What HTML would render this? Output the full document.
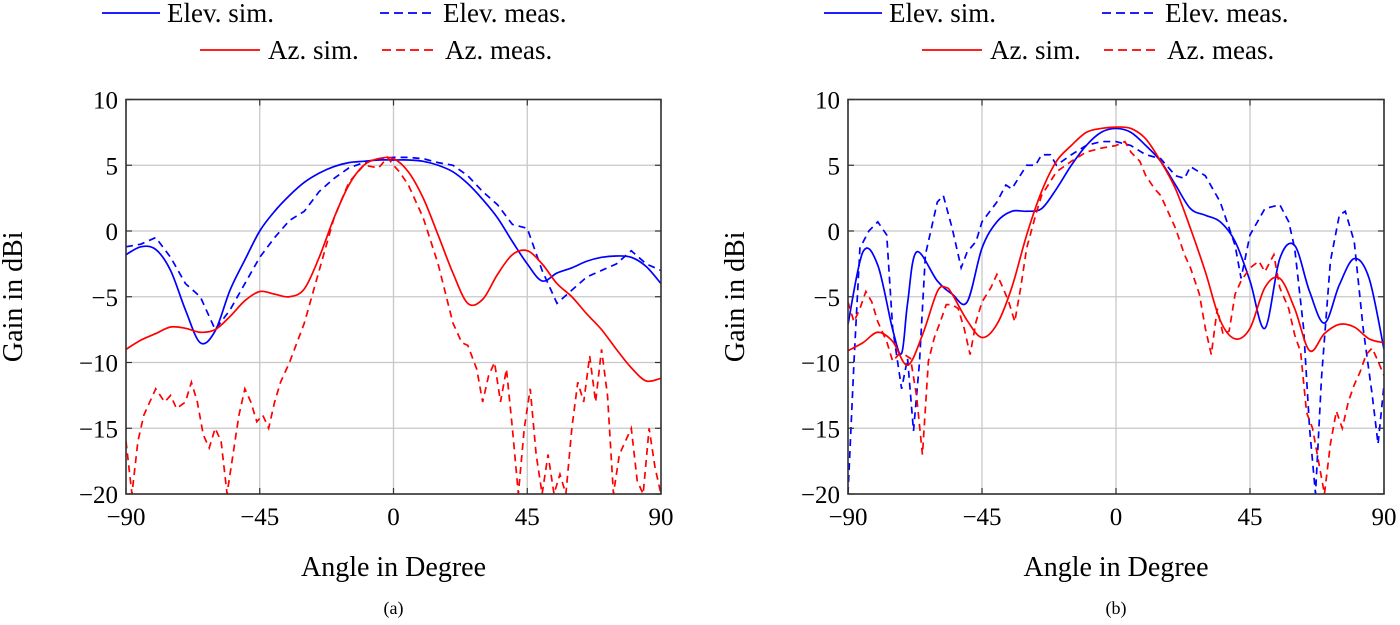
<!DOCTYPE html>
<html><head><meta charset="utf-8">
<style>
html,body{margin:0;padding:0;background:#fff;}
svg{display:block;font-family:"Liberation Serif","DejaVu Serif",serif;}
</style></head>
<body>
<svg id="fig" width="1400" height="625" viewBox="0 0 1400 625" xmlns="http://www.w3.org/2000/svg"></svg>
<script>
const xTicks=[-90,-45,0,45,90];
const yTicks=[10,5,0,-5,-10,-15,-20];
// Plot (a)
const aAng=[-90,-85,-80,-75,-70,-65,-60,-55,-50,-45,-40,-35,-30,-25,-20,-15,-10,-5,0,5,10,15,20,25,30,35,40,45,50,55,60,65,70,75,80,85,90];
const aElevSim=[-1.8,-1.2,-1.4,-3,-6,-8.5,-7.6,-4.5,-2.2,0,1.5,2.7,3.7,4.4,4.9,5.2,5.3,5.4,5.4,5.4,5.3,5.0,4.5,3.6,2.4,1,-0.8,-2.5,-3.8,-3.2,-2.8,-2.3,-2.0,-1.9,-2.0,-2.7,-4];
const aElevMeas=[-1.2,-1,-0.5,-2,-4,-5,-7.5,-6,-4,-2,-0.5,0.8,1.5,3,4.0,4.8,5.2,5.5,5.6,5.6,5.5,5.2,5.0,4.2,3.0,2.0,0.5,0.2,-3,-5.5,-4.5,-3.5,-3.0,-2.5,-1.5,-2.5,-3];
const aAzSim=[-9,-8.3,-7.8,-7.3,-7.4,-7.7,-7.5,-6.5,-5.3,-4.6,-4.8,-5.0,-4.4,-2,1,3.5,5.0,5.5,5.5,4.5,2.5,-0.3,-3.2,-5.5,-5.2,-3.3,-1.8,-1.5,-2.5,-4,-5,-6.3,-7.5,-9,-10.4,-11.4,-11.2];
const aMeasAng=[-90,-88,-86,-84,-80,-77,-75,-73,-70,-68,-66,-64,-62,-60,-58,-56,-54,-52,-50,-48,-46,-44,-42,-40,-38,-35,-30,-25,-20,-15,-10,-5,-2,0,2,5,10,15,20,23,25,28,30,32,34,36,38,40,42,44,46,48,50,52,54,56,58,60,62,64,66,68,70,72,74,76,78,80,82,84,86,88,90];
const aAzMeas=[-16,-20,-16,-14,-12,-13,-12.5,-13.5,-13,-11.5,-13,-15.5,-16.5,-15,-16,-20,-17,-14,-12,-13,-14.5,-14,-15,-13,-11.5,-10,-7,-3,1,3.7,5.0,4.8,5.6,5.0,4.5,3.5,1,-2.5,-7,-8.5,-8.7,-10.5,-13,-11,-10,-13,-10.5,-15,-20,-15,-12,-17,-20,-17,-20,-18.5,-20,-15,-11.5,-13,-9.5,-13,-9,-12.5,-20,-17,-16,-15,-19,-20,-15,-18,-20];
// Plot (b)
const bAng=[-90,-85,-80,-75,-72,-70,-67,-60,-55,-50,-45,-40,-35,-30,-25,-20,-15,-10,-5,0,5,10,15,20,25,30,35,40,45,50,55,60,65,70,75,80,85,90];
const bElevSim=[-7.1,-1.6,-2.6,-7.5,-9.3,-5.5,-1.6,-3.8,-4.8,-5.4,-1.3,0.7,1.5,1.5,1.7,3.2,5,6.5,7.5,7.8,7.5,6.5,5.3,3.5,1.7,1.2,0.7,-0.8,-3.8,-7.4,-2.1,-1.1,-4.6,-7,-4.1,-2.1,-3.6,-9];
const bAzSimAng=[-90,-85,-80,-75,-70,-65,-60,-57,-55,-50,-45,-40,-35,-30,-25,-20,-15,-10,-5,0,5,10,15,20,25,30,35,40,45,50,55,60,65,70,75,80,85,90];
const bAzSim=[-9.1,-8.5,-7.7,-8.4,-10.2,-7.9,-4.6,-4.3,-4.8,-6.8,-8.1,-7.1,-4.3,-0.3,3.0,5.3,6.5,7.5,7.8,7.9,7.8,7.0,5.3,3.2,0.2,-3.1,-6.8,-8.2,-7.4,-4.3,-3.6,-5.9,-9.1,-7.8,-7.1,-7.3,-8.2,-8.5];
const bElevMeasAng=[-90,-88,-86,-83,-80,-77,-75,-72,-70,-68,-66,-64,-60,-58,-55,-52,-50,-47,-45,-40,-37,-35,-30,-27,-25,-22,-20,-15,-10,-5,0,5,10,15,20,23,25,30,35,40,42,45,50,55,58,60,63,65,67,69,72,75,77,80,83,86,88,90];
const bElevMeas=[-20,-10,-1.3,0,0.7,-0.3,-7.4,-12,-9.7,-15.2,-10,-1.8,2.2,2.7,0.2,-2.8,-1.6,-0.8,0.7,2.2,3.5,3.2,5,5,5.8,5.8,5,5.8,6.5,6.8,6.8,6.5,5.8,5.5,4.2,4,4.9,4.2,2.2,-1.1,-3.6,-0.3,1.7,2.0,0.7,-1.3,-7.4,-15,-20,-11.2,-2.3,1.2,1.5,-0.8,-7.4,-12.4,-16.2,-11.7];
const bAzMeasAng=[-90,-88,-86,-84,-82,-80,-77,-75,-73,-71,-69,-67,-65,-63,-61,-59,-57,-55,-53,-51,-49,-47,-45,-42,-40,-38,-36,-34,-32,-30,-27,-25,-20,-15,-10,-5,0,3,5,8,10,13,15,20,23,25,28,30,32,34,36,38,40,42,45,48,50,53,55,58,60,62,64,66,68,70,72,74,76,78,80,82,84,86,88,90];
const bAzMeas=[-5.4,-6.9,-5.9,-4.6,-5.4,-6.9,-8.4,-9.9,-9.4,-9.4,-9.7,-12.5,-17,-9.9,-8.1,-6.9,-5.6,-5.6,-5.9,-7.4,-9.4,-6.9,-5.4,-4.3,-3.3,-4.3,-5.4,-6.9,-4.3,-1.3,1.2,2.7,4.5,5.3,6.0,6.3,6.5,6.8,6.0,5.3,4.2,3.2,2.7,0.2,-1.8,-2.8,-4.8,-7.4,-9.4,-5.9,-7.9,-7.6,-4.8,-3.8,-2.8,-2.3,-3.1,-1.8,-4.3,-5.9,-7.9,-9.2,-13.8,-15,-17.5,-20,-16.2,-13.7,-15,-13,-11.7,-10.7,-9.4,-8.9,-9.9,-11];

const NS="http://www.w3.org/2000/svg";
const svg=document.getElementById('fig');
function mk(tag,attrs,parent){const e=document.createElementNS(NS,tag);for(const k in attrs)e.setAttribute(k,attrs[k]);(parent||svg).appendChild(e);return e;}
const BLUE="#0000ff",RED="#ff0000";

function panel(id,x0,x1,y0,y1,series,label){
  const g=mk('g',{});
  
  
  const sx=a=>x0+(a+90)/180*(x1-x0);
  const sy=v=>y1-(v+20)/30*(y1-y0);
  const clipId='clip-'+id;
  const cp=mk('clipPath',{id:clipId},g);mk('rect',{x:x0,y:y0,width:x1-x0,height:y1-y0},cp);
  for(const t of xTicks){const l=mk('line',{x1:sx(t),x2:sx(t),y1:y0,y2:y1,stroke:'#c8c8c8','stroke-width':1.3},g);
    }
  for(const t of yTicks){const l=mk('line',{x1:x0,x2:x1,y1:sy(t),y2:sy(t),stroke:'#c8c8c8','stroke-width':1.3},g);
    }
  const sg=mk('g',{'clip-path':'url(#'+clipId+')'},g);
  for(const s of series){
    const pts=s.x.map((a,i)=>[sx(a),sy(s.y[i])]);
    let d='M'+pts[0][0]+','+pts[0][1];
    if(s.smooth){
      for(let i=0;i<pts.length-1;i++){const p0=pts[Math.max(0,i-1)],p1=pts[i],p2=pts[i+1],p3=pts[Math.min(pts.length-1,i+2)];
        d+=' C'+(p1[0]+(p2[0]-p0[0])/6)+','+(p1[1]+(p2[1]-p0[1])/6)+' '+(p2[0]-(p3[0]-p1[0])/6)+','+(p2[1]-(p3[1]-p1[1])/6)+' '+p2[0]+','+p2[1];}
    } else {for(let i=1;i<pts.length;i++)d+=' L'+pts[i][0]+','+pts[i][1];}
    const p=mk('path',{d:d,fill:'none',stroke:s.c,'stroke-width':1.7,'stroke-dasharray':s.dash?'7,5':'none'},sg);
    
    
  }
  const fr=mk('rect',{x:x0,y:y0,width:x1-x0,height:y1-y0,fill:'none',stroke:'#333','stroke-width':1.6},g);
  
  for(const t of xTicks){
    mk('line',{x1:sx(t),x2:sx(t),y1:y1,y2:y1-6,stroke:'#333','stroke-width':1.2},g);
    mk('line',{x1:sx(t),x2:sx(t),y1:y0,y2:y0+6,stroke:'#333','stroke-width':1.2},g);
    const tx=mk('text',{x:sx(t),y:y1+31,'font-size':25,'text-anchor':'middle'},g);
    tx.textContent=t<0?'\u2212'+(-t):String(t);
    
  }
  for(const t of yTicks){
    mk('line',{x1:x0,x2:x0+6,y1:sy(t),y2:sy(t),stroke:'#333','stroke-width':1.2},g);
    mk('line',{x1:x1,x2:x1-6,y1:sy(t),y2:sy(t),stroke:'#333','stroke-width':1.2},g);
    const tx=mk('text',{x:x0-8,y:sy(t)+9,'font-size':25,'text-anchor':'end'},g);
    tx.textContent=t<0?'\u2212'+(-t):String(t);
    
  }
  const cx=(x0+x1)/2;
  const xl=mk('text',{x:cx,y:576,'font-size':28,'text-anchor':'middle'},g);xl.textContent='Angle in Degree';
  
  const ylx=x0-104;
  const yl=mk('text',{x:ylx,y:(y0+y1)/2,'font-size':28,'text-anchor':'middle',transform:'rotate(-90 '+ylx+' '+((y0+y1)/2)+')'},g);yl.textContent='Gain in dBi';
  
  const cap=mk('text',{x:cx,y:614,'font-size':18,'text-anchor':'middle'},g);cap.textContent=label;
  
  // legend
  const lg=mk('g',{},g);
  
  const off=x0-126;
  const ents=[[102,160,167,20,'Elev. sim.',BLUE,false],[380,436,443,20,'Elev. meas.',BLUE,true],[200,260,268,57,'Az. sim.',RED,false],[382,438,445,57,'Az. meas.',RED,true]];
  for(const e of ents){
    const eg=mk('g',{},lg);
    
    mk('line',{x1:e[0]+off,x2:e[1]+off,y1:e[3]-7,y2:e[3]-7,stroke:e[5],'stroke-width':1.7,'stroke-dasharray':e[6]?'9,5':'none'},eg);
    const t=mk('text',{x:e[2]+off,y:e[3]+2,'font-size':27},eg);t.textContent=e[4];
  }
}
panel('chart-a',126,661,99.5,494,[
  {x:aAng,y:aElevSim,c:BLUE,dash:false,smooth:true,name:'elev-sim-line'},
  {x:aAng,y:aElevMeas,c:BLUE,dash:true,smooth:false,name:'elev-meas-line'},
  {x:aAng,y:aAzSim,c:RED,dash:false,smooth:true,name:'az-sim-line'},
  {x:aMeasAng,y:aAzMeas,c:RED,dash:true,smooth:false,name:'az-meas-line'}
],'(a)');
panel('chart-b',848,1384,99.5,494,[
  {x:bAng,y:bElevSim,c:BLUE,dash:false,smooth:true,name:'elev-sim-line'},
  {x:bElevMeasAng,y:bElevMeas,c:BLUE,dash:true,smooth:false,name:'elev-meas-line'},
  {x:bAzSimAng,y:bAzSim,c:RED,dash:false,smooth:true,name:'az-sim-line'},
  {x:bAzMeasAng,y:bAzMeas,c:RED,dash:true,smooth:false,name:'az-meas-line'}
],'(b)');
</script>
</body></html>
